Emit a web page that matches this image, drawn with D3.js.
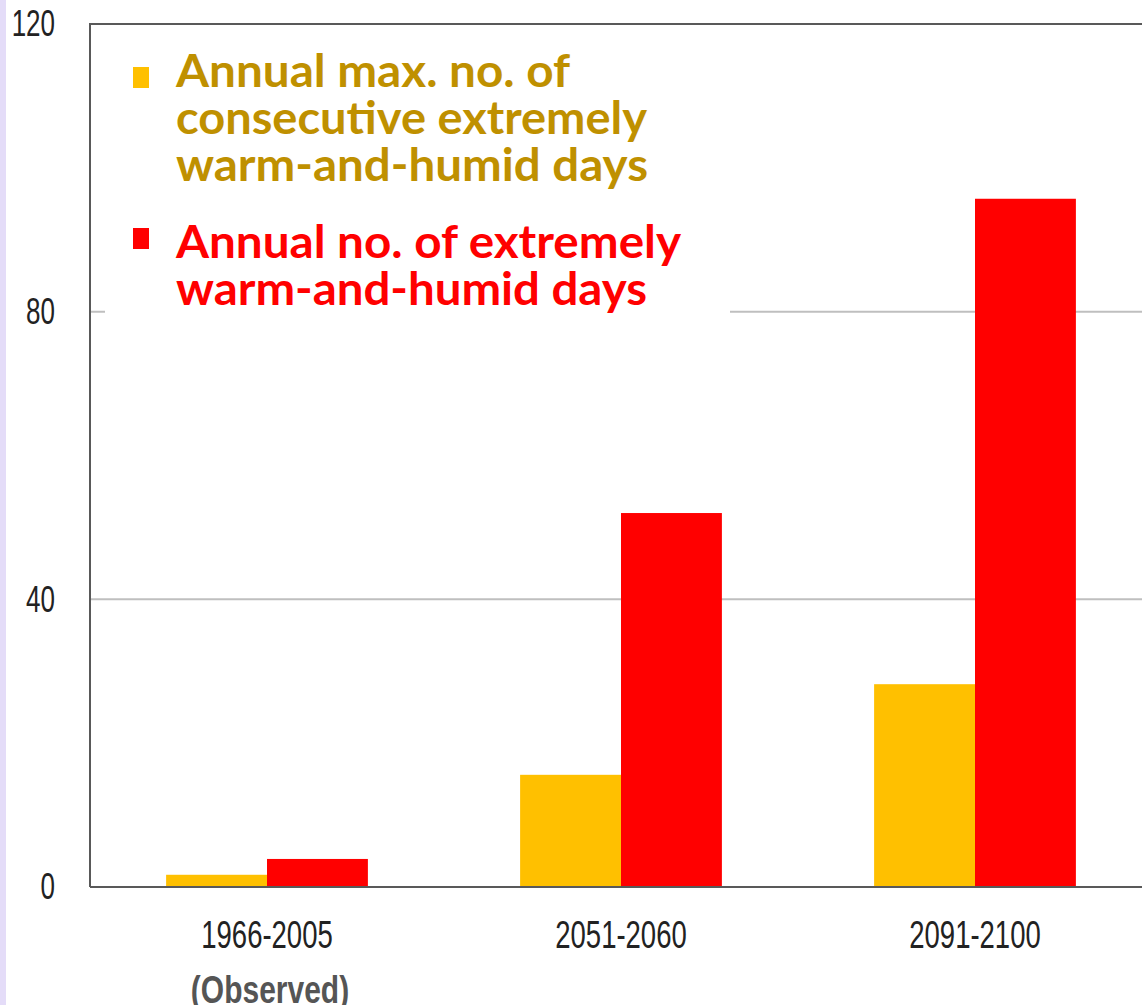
<!DOCTYPE html>
<html>
<head>
<meta charset="utf-8">
<script src="https://cdn.jsdelivr.net/npm/d3@7"></script>
<style>
  html, body { margin: 0; padding: 0; background: #fff; overflow: hidden; }
</style>
</head>
<body>
<svg id="chart" width="1142" height="1005"></svg>
<script>
// chart data
const periods = ["1966-2005", "2051-2060", "2091-2100"];
const periodNotes = ["(Observed)", "", ""];
const seriesKeys = ["consecutive", "total"];
const consecutiveDays = [1.7, 15.6, 28.2];
const totalDays = [3.9, 52.0, 95.7];
const yTicks = [0, 40, 80, 120];
const legendLines = [
    ["Annual max. no. of", "consecutive extremely", "warm-and-humid days"],
    ["Annual no. of extremely", "warm-and-humid days"]
];

const colors = {consecutive: "#FFC000", total: "#FF0000"};
const legendText = {consecutive: "#BF9000", total: "#FF0000"};

const svg = d3.select("#chart");
const plotLeft = 90, plotTop = 24, plotBottom = 887, plotRight = 1152;

// light lavender strip on the left edge
svg.append("rect").attr("x", 0).attr("y", 0).attr("width", 6).attr("height", 1005).attr("fill", "#E4DCF8");

const y = d3.scaleLinear().domain([0, 120]).range([plotBottom, plotTop]);
const x0 = d3.scaleBand().domain(periods).range([plotLeft, plotRight]).paddingInner(0.43).paddingOuter(0.215);
const x1 = d3.scaleBand().domain(seriesKeys).range([0, x0.bandwidth()]);

// gridlines
svg.append("g")
    .selectAll("line")
    .data(yTicks.filter(t => t > 0 && t < 120))
    .join("line")
    .attr("x1", plotLeft).attr("x2", plotRight)
    .attr("y1", d => y(d)).attr("y2", d => y(d))
    .attr("stroke", "#BFBFBF")
    .attr("stroke-width", 2);

// y axis labels
const yAxis = svg.append("g")
    .attr("transform", `translate(${plotLeft},0)`)
    .call(d3.axisLeft(y).tickValues(yTicks).tickSize(0).tickPadding(35));
yAxis.select(".domain").remove();
yAxis.selectAll("text")
    .attr("font-family", "'Liberation Sans', Arial, sans-serif")
    .attr("font-size", 26)
    .attr("fill", "#222")
    .attr("transform", "scale(1,1.42)");

// bars
const rows = periods.map((p, i) => ({period: p, consecutive: consecutiveDays[i], total: totalDays[i]}));
svg.append("g")
    .selectAll("g")
    .data(rows)
    .join("g")
    .attr("transform", d => `translate(${x0(d.period)},0)`)
    .selectAll("rect")
    .data(d => seriesKeys.map(k => ({key: k, value: d[k]})))
    .join("rect")
    .attr("x", d => x1(d.key))
    .attr("width", x1.bandwidth())
    .attr("y", d => y(d.value))
    .attr("height", d => y(0) - y(d.value))
    .attr("fill", d => colors[d.key]);

// frame: left, top, baseline
svg.append("path")
    .attr("d", `M${plotLeft},${plotBottom}V${plotTop}H${1142}`)
    .attr("fill", "none").attr("stroke", "#595959").attr("stroke-width", 2);
svg.append("line")
    .attr("x1", plotLeft).attr("x2", 1142).attr("y1", plotBottom).attr("y2", plotBottom)
    .attr("stroke", "#595959").attr("stroke-width", 2);

// x axis labels
const xAxis = svg.append("g")
    .attr("transform", `translate(0,${plotBottom})`)
    .call(d3.axisBottom(x0).tickSize(0));
xAxis.select(".domain").remove();
xAxis.selectAll("text")
    .attr("y", 43.6).attr("dy", 0)
    .attr("font-family", "'Liberation Sans', Arial, sans-serif")
    .attr("font-size", 27.5)
    .attr("fill", "#222")
    .attr("transform", "scale(1,1.4)");
xAxis.selectAll(".tick")
    .append("text")
    .text((d, i) => periodNotes[i])
    .attr("y", 116 / 1.32)
    .attr("text-anchor", "middle")
    .attr("font-family", "'Liberation Sans', Arial, sans-serif")
    .attr("font-weight", "bold")
    .attr("font-size", 30)
    .attr("fill", "#555")
    .attr("transform", "translate(3,0) scale(1,1.32)");

// legend box (hides gridline behind it)
const legend = svg.append("g");
legend.append("rect")
    .attr("x", 105).attr("y", 28).attr("width", 625).attr("height", 294)
    .attr("fill", "#fff");

const legendBaselines = [[87, 134, 181], [258, 305]];
const legendWidths = [[394, 471, 472], [505, 471]];
const markerTops = [67, 228];
seriesKeys.forEach((k, i) => {
    legend.append("rect")
        .attr("x", 133).attr("y", markerTops[i])
        .attr("width", 16).attr("height", 21)
        .attr("fill", colors[k]);
    legend.selectAll(null)
        .data(legendLines[i])
        .join("text")
        .attr("x", 176)
        .attr("y", (d, j) => legendBaselines[i][j])
        .attr("textLength", (d, j) => legendWidths[i][j])
        .attr("lengthAdjust", "spacingAndGlyphs")
        .attr("font-family", "Lato, 'Open Sans', sans-serif")
        .attr("font-weight", "bold")
        .attr("font-size", 45)
        .attr("fill", legendText[k])
        .text(d => d);
});
</script>
</body>
</html>
